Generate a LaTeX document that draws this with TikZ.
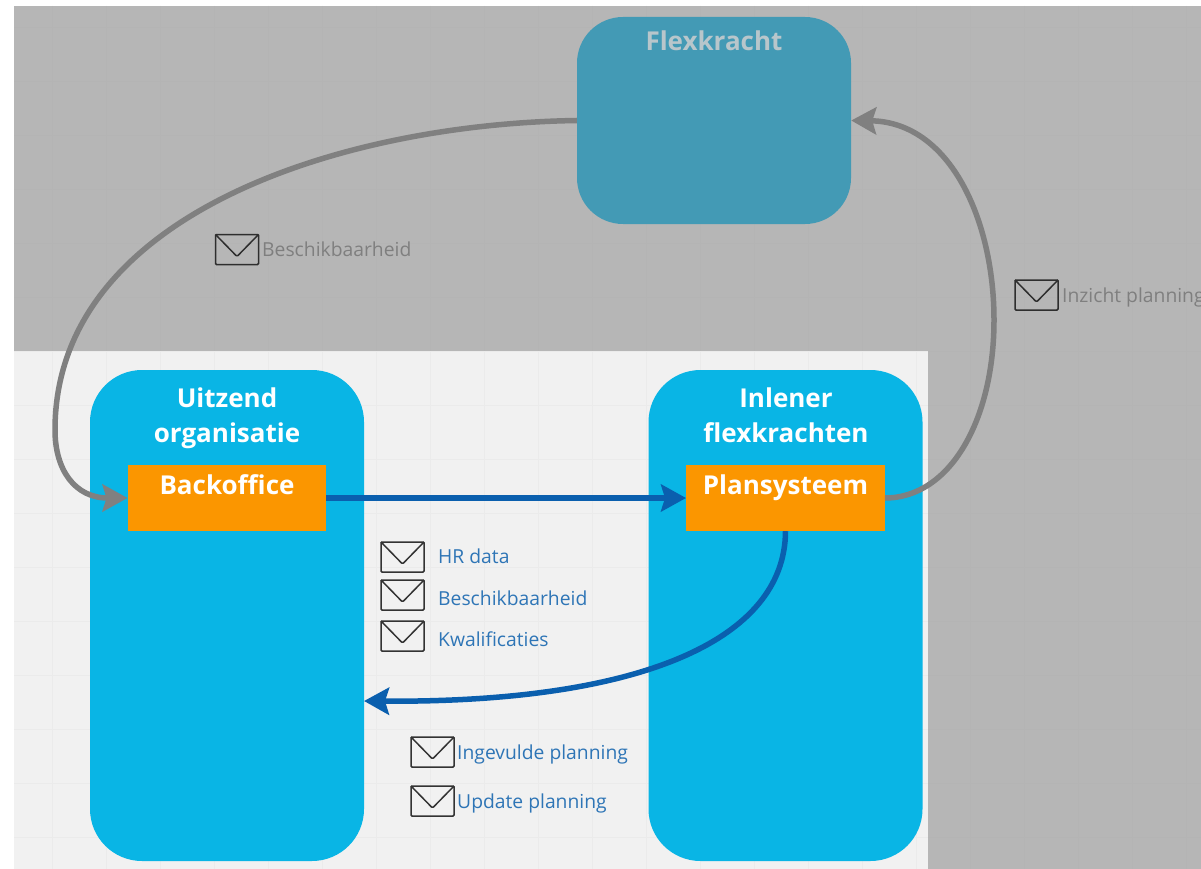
\documentclass[tikz,border=0pt]{standalone}
\usepackage{fontspec}
\setmainfont{Open Sans}
\usetikzlibrary{arrows.meta}
\definecolor{dimbg}{HTML}{B6B6B6}
\definecolor{lightbg}{HTML}{F1F1F1}
\definecolor{gridlight}{HTML}{EBEBEB}
\definecolor{griddim}{HTML}{B4B4B4}
\definecolor{teal}{HTML}{439AB5}
\definecolor{sky}{HTML}{09B5E5}
\definecolor{orangebox}{HTML}{FB9600}
\definecolor{darkblue}{HTML}{0A5FAE}
\definecolor{dimline}{HTML}{808080}
\definecolor{dimtext}{HTML}{7F7F7F}
\definecolor{bluetext}{HTML}{2E75B6}
\definecolor{flextext}{HTML}{B8C6CB}
\tikzset{
  x=1pt,y=-1pt,
  lane/.style={rectangle,rounded corners=52pt,fill=sky,minimum width=274pt,minimum height=491pt,inner sep=0pt},
  sysbox/.style={rectangle,fill=orangebox,minimum width=198.5pt,minimum height=66pt,inner sep=0pt},
  title/.style={font=\fontsize{26}{35}\selectfont\bfseries,text=white,align=center,inner sep=0pt},
  msg/.style={font=\fontsize{19.3}{22}\selectfont,anchor=base west,inner sep=0pt},
  flow/.style={line width=5.5pt,color=darkblue,-{Stealth[length=25pt,width=27pt,inset=4pt]}},
  dimflow/.style={line width=5.5pt,color=dimline,-{Stealth[length=25pt,width=27pt,inset=4pt]}},
  envelope/.pic={
    \draw[line width=1.5pt,rounded corners=1pt,pic actions] (-21.5,-15) rectangle (21.5,15);
    \draw[line width=1.5pt,line join=round,pic actions] (-21.5,-15) -- (-1,6) -- (1,6) -- (21.5,-15);
  }
}
\begin{document}
\begin{tikzpicture}
\useasboundingbox (0,0) rectangle (1201,869);
\fill[white] (0,0) rectangle (1201,869);
\fill[dimbg] (14,6) rectangle (1201,869);
\fill[lightbg] (14,351) rectangle (928,869);
% grid on the dimmed area
\begin{scope}
\clip (14,6) rectangle (1201,869);
\foreach \gx in {52,106,...,1200} \draw[griddim,line width=.7pt] (\gx,6) -- (\gx,869);
\foreach \gy in {27,81,...,868} \draw[griddim,line width=.7pt] (14,\gy) -- (1201,\gy);
\end{scope}
% grid on the light area
\begin{scope}
\clip (14,351) rectangle (928,869);
\fill[lightbg] (14,351) rectangle (928,869);
\foreach \gx in {52,106,...,927} \draw[gridlight,line width=.7pt] (\gx,351) -- (\gx,869);
\foreach \gy in {351,405,...,868} \draw[gridlight,line width=.7pt] (14,\gy) -- (928,\gy);
\end{scope}

\node[lane] (uitzend) at (227,615.5) {};
\node[lane] (inlener) at (785.5,615.5) {};
\node[rectangle,rounded corners=46pt,fill=teal,minimum width=274pt,minimum height=207pt,inner sep=0pt] (flex) at (714,120.5) {};
\node[sysbox] (backoffice) at (227,498) {};
\node[sysbox] (plansysteem) at (785.5,498) {};

\node[title,text=flextext,anchor=base] (flextitle) at (714,51) {Flexkracht};
\node[title,anchor=base] (uitzendt1) at (227,407) {Uitzend};
\node[title,anchor=base] (uitzendt2) at (227,442) {organisatie};
\node[title,anchor=base] (inlenert1) at (786,407) {Inlener};
\node[title,anchor=base] (inlenert2) at (786,442) {flexkrachten};
\node[title,anchor=base] (backofficetitle) at (227,494) {Backoffice};
\node[title,anchor=base] (plantitle) at (785.5,494) {Plansysteem};

\coordinate (uitzendin) at (364,701);

\draw[flow] (backoffice.east) -- (plansysteem.west);
\draw[flow] (plansysteem.south) .. controls (785,640) and (640,703) .. (uitzendin);
\draw[dimflow] (flex.west) .. controls (340,124) and (55,215) .. (55,430) .. controls (55,470) and (75,498) .. (backoffice.west);
\draw[dimflow] (plansysteem.east) .. controls (950,498) and (994,420) .. (994,320) .. controls (994,220) and (950,122) .. (flex.east);

\pic[draw=black!75!dimbg] at (237,249.5) {envelope};
\pic[draw=black!75!dimbg] at (1036.5,295) {envelope};
\pic[draw=black!80] at (402.5,557) {envelope};
\pic[draw=black!80] at (402.5,595) {envelope};
\pic[draw=black!80] at (402.5,636) {envelope};
\pic[draw=black!80] at (432.5,752) {envelope};
\pic[draw=black!80] at (432.5,801) {envelope};

\node[msg,text=dimtext] (m1) at (262,256) {Beschikbaarheid};
\begin{scope}
\clip (1000,270) rectangle (1201,320);
\node[msg,text=dimtext] (m2) at (1062,302.5) {Inzicht planning};
\end{scope}
\node[msg,text=bluetext] (m3) at (438,563.5) {HR data};
\node[msg,text=bluetext] (m4) at (438,605) {Beschikbaarheid};
\node[msg,text=bluetext] (m5) at (438,646.5) {Kwalificaties};
\node[msg,text=bluetext] (m6) at (457,759.5) {Ingevulde planning};
\node[msg,text=bluetext] (m7) at (457,808.5) {Update planning};
\end{tikzpicture}
\end{document}
